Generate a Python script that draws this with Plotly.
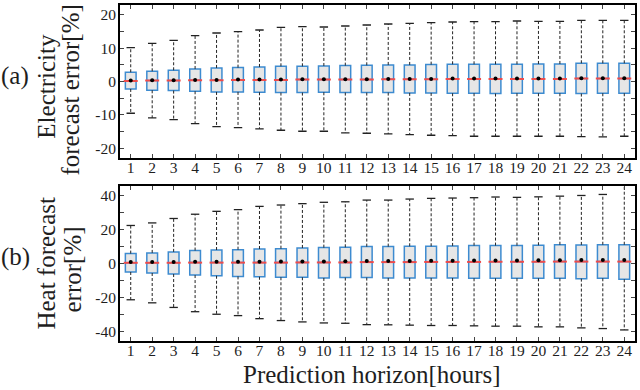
import plotly.graph_objects as go

hours = list(range(1, 25))

# Electricity forecast error [%]
elec_upper = [10.2, 11.5, 12.4, 13.8, 14.6, 15.0, 15.5, 16.3, 16.5, 16.4, 16.7, 17.0,
              17.3, 17.5, 17.7, 17.9, 18.0, 18.0, 18.2, 18.1, 18.1, 18.4, 18.4, 18.4]
elec_q3 = [2.8, 3.1, 3.4, 3.8, 4.1, 4.2, 4.4, 4.6, 4.6, 4.7, 4.8, 4.9,
           5.0, 5.0, 5.1, 5.2, 5.2, 5.2, 5.2, 5.3, 5.3, 5.5, 5.5, 5.5]
elec_median = [0.2, 0.3, 0.3, 0.4, 0.4, 0.5, 0.5, 0.5, 0.6, 0.6, 0.6, 0.6,
               0.7, 0.7, 0.7, 0.8, 0.8, 0.8, 0.8, 0.8, 0.8, 0.9, 0.9, 0.9]
elec_mean = [0.3, 0.4, 0.4, 0.5, 0.5, 0.6, 0.6, 0.6, 0.7, 0.7, 0.7, 0.7,
             0.8, 0.8, 0.8, 0.9, 0.9, 0.9, 0.9, 0.9, 0.9, 1.0, 1.0, 1.0]
elec_q1 = [-2.2, -2.6, -2.7, -2.9, -3.1, -3.1, -3.2, -3.3, -3.3, -3.2, -3.3, -3.3,
           -3.3, -3.4, -3.4, -3.5, -3.5, -3.6, -3.5, -3.5, -3.5, -3.6, -3.5, -3.5]
elec_lower = [-9.5, -10.9, -11.4, -12.6, -13.5, -13.8, -14.2, -14.6, -14.9, -14.9, -15.4, -15.5,
              -15.7, -15.9, -16.1, -16.2, -16.4, -16.4, -16.4, -16.4, -16.4, -16.5, -16.6, -16.4]

# Heat forecast error [%]
heat_upper = [22.3, 23.8, 26.4, 28.9, 30.6, 31.6, 33.5, 34.3, 35.1, 35.9, 36.2, 37.2,
              37.2, 37.8, 38.2, 38.4, 38.6, 39.0, 38.8, 39.1, 39.5, 39.9, 40.5, 47.0]
heat_q3 = [5.8, 6.2, 6.8, 7.6, 7.9, 8.1, 8.5, 8.7, 9.1, 9.3, 9.5, 9.9,
           9.9, 10.1, 10.1, 10.3, 10.5, 10.5, 10.5, 10.7, 11.0, 10.9, 11.0, 11.0]
heat_median = [0.4, 0.4, 0.4, 0.5, 0.5, 0.5, 0.5, 0.5, 0.6, 0.6, 0.6, 0.8,
               0.8, 0.8, 0.9, 0.9, 0.9, 1.0, 1.0, 1.0, 1.1, 1.1, 1.1, 1.1]
heat_mean = [0.9, 0.9, 0.9, 1.0, 1.0, 1.0, 1.0, 1.1, 1.2, 1.2, 1.3, 1.4,
             1.5, 1.5, 1.6, 1.6, 1.7, 1.8, 1.8, 1.9, 1.9, 2.0, 2.0, 2.0]
heat_q1 = [-5.0, -5.6, -6.2, -6.8, -7.2, -7.6, -7.8, -8.1, -8.1, -8.5, -8.3, -8.3,
           -8.5, -8.5, -8.5, -8.5, -8.7, -8.7, -8.7, -8.7, -8.7, -8.9, -8.7, -9.3]
heat_lower = [-21.3, -23.1, -25.8, -28.3, -29.8, -30.6, -32.4, -33.5, -34.3, -34.9, -35.1, -35.9,
              -36.0, -36.2, -36.4, -36.4, -36.6, -36.8, -36.8, -37.2, -37.2, -37.8, -38.2, -39.0]

elec_ticks = [-20, -15, -10, -5, 0, 5, 10, 15, 20]
elec_ticktext = ["-20", "", "-10", "", "0", "", "10", "", "20"]
heat_ticks = [-40, -30, -20, -10, 0, 10, 20, 30, 40]
heat_ticktext = ["-40", "", "-20", "", "0", "", "20", "", "40"]

BLUE = "#3d8bd0"
FILL = "#e6e6e6"
RED = "#ee4c4c"
FONT = "Liberation Serif"
INK = "#1e1e1e"

fig = go.Figure()


def add_panel(q1, med, q3, lo, up, mean, xa, ya):
    fig.add_trace(go.Box(
        x=hours, q1=q1, median=med, q3=q3, lowerfence=q1, upperfence=q3,
        width=0.5, fillcolor=FILL, line=dict(color=BLUE, width=1.5),
        boxpoints=False, showlegend=False, xaxis=xa, yaxis=ya, hoverinfo="skip"))
    wx, wy = [], []
    for h, a, b, c, d in zip(hours, q3, up, q1, lo):
        wx += [h, h, None, h, h, None]
        wy += [a, b, None, c, d, None]
    fig.add_trace(go.Scatter(
        x=wx, y=wy, mode="lines", line=dict(color="#222222", width=1, dash="3px,2px"),
        showlegend=False, xaxis=xa, yaxis=ya, hoverinfo="skip"))
    fig.add_trace(go.Scatter(
        x=hours + hours, y=up + lo, mode="markers",
        marker=dict(symbol="line-ew", size=6, line=dict(color="#222222", width=1.3)),
        showlegend=False, xaxis=xa, yaxis=ya, hoverinfo="skip"))
    fig.add_trace(go.Scatter(
        x=hours, y=med, mode="markers",
        marker=dict(symbol="line-ew", size=10, line=dict(color=RED, width=2)),
        showlegend=False, xaxis=xa, yaxis=ya, hoverinfo="skip"))
    fig.add_trace(go.Scatter(
        x=hours, y=mean, mode="markers",
        marker=dict(symbol="circle", size=4, color="black"),
        showlegend=False, xaxis=xa, yaxis=ya, hoverinfo="skip"))


add_panel(elec_q1, elec_median, elec_q3, elec_lower, elec_upper, elec_mean, "x", "y")
add_panel(heat_q1, heat_median, heat_q3, heat_lower, heat_upper, heat_mean, "x2", "y2")

axis_common = dict(showline=True, linecolor="black", linewidth=2, mirror="ticks",
                   ticks="inside", ticklen=4, tickwidth=1, tickcolor="#444444",
                   showgrid=False, zeroline=False,
                   tickfont=dict(family=FONT, size=15.5, color=INK))

fig.update_layout(
    width=640, height=390,
    margin=dict(l=120, r=4, t=3, b=49),
    plot_bgcolor="white", paper_bgcolor="white",
    xaxis=dict(domain=[0, 1], anchor="y", range=[0.5, 24.5], tickvals=hours,
               ticktext=[str(h) for h in hours], ticklabelstandoff=-6, **axis_common),
    yaxis=dict(domain=[0.544, 1], anchor="x", range=[-23, 23], tickvals=elec_ticks,
               ticktext=elec_ticktext, ticklabelstandoff=-1, **axis_common),
    xaxis2=dict(domain=[0, 1], anchor="y2", range=[0.5, 24.5], tickvals=hours,
                ticktext=[str(h) for h in hours], ticklabelstandoff=-6, **axis_common),
    yaxis2=dict(domain=[0, 0.4615], anchor="x2", range=[-45.5, 45.5], tickvals=heat_ticks,
                ticktext=heat_ticktext, ticklabelstandoff=-1, **axis_common),
    boxgap=0,
)

tfont = dict(family=FONT, size=25, color=INK)


def px2x(px):
    return (px - 120) / 516


def py2y(py):
    return (341 - py) / 338


def label(text, px, py, angle=0):
    fig.add_annotation(text=text, textangle=angle, x=px2x(px), y=py2y(py),
                       xref="paper", yref="paper", xanchor="center", yanchor="middle",
                       showarrow=False, font=tfont)


label("Electricity", 46, 85, -90)
label("forecast error[%]", 70, 89, -90)
label("Heat forecast", 46, 263, -90)
label("error[%]", 72, 269, -90)
label("(a)", 15, 74)
label("(b)", 15, 257)
label("Prediction horizon[hours]", 372, 375)

fig.write_html("out.html", post_script="document.body.style.margin='0';",
               config={"displayModeBar": False})
